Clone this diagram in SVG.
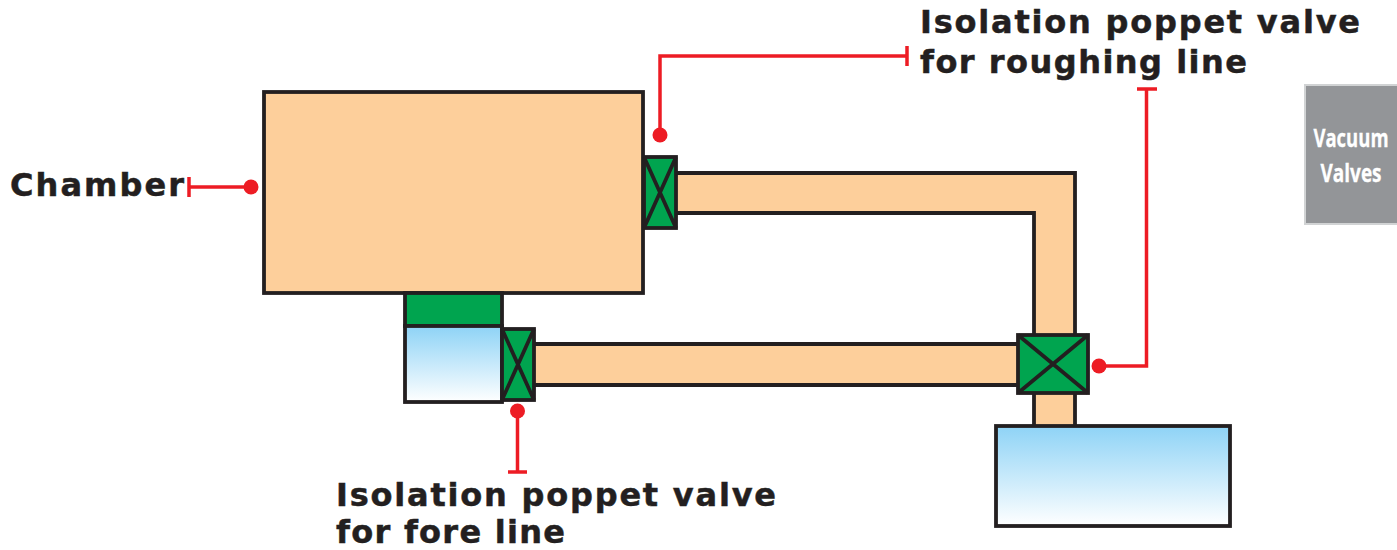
<svg xmlns="http://www.w3.org/2000/svg" width="1397" height="550" viewBox="0 0 1397 550">
<defs>
<linearGradient id="blue" x1="0" y1="0" x2="0" y2="1"><stop offset="0" stop-color="#8ed3f6"/><stop offset="1" stop-color="#ffffff"/></linearGradient>
</defs>
<style>
.o{stroke:#231f20;stroke-width:3.8;stroke-linejoin:miter}
.x{fill:none;stroke:#231f20;stroke-width:3.8}
.p{fill:#fdcf9b}
.g{fill:#00a44f}
.b{fill:url(#blue)}
.r{fill:none;stroke:#ed1c24;stroke-width:3.5}
.d{fill:#ed1c24}
.t{font-family:"DejaVu Sans",Verdana,sans-serif;font-weight:700;font-size:32px;fill:#231f20;stroke:#231f20;stroke-width:.5}
.v{font-family:"Open Sans","Noto Sans",sans-serif;font-weight:700;font-size:25px;fill:#fff;stroke:#fff;stroke-width:.3;text-anchor:middle}
</style>
<g id="pipes">
<path class="p" d="M676 173H1075V336H1034V213H676Z"/>
<path class="x" d="M676 173H1075V336M1034 336V213H676"/>
<rect class="p" x="534" y="345" width="485" height="40"/>
<path class="x" d="M534 344H1019M534 385H1019"/>
<path class="p" d="M1034 392H1075V426H1034Z"/>
<path class="x" d="M1034 392V426M1075 392V426"/>
</g>
<g id="chamber"><rect class="o p" x="264" y="92" width="379" height="201"/></g>
<g id="flange"><rect class="o g" x="405" y="293" width="97" height="33"/></g>
<g id="fore-pump"><rect class="o b" x="405" y="326" width="97" height="76"/></g>
<g id="roughing-pump"><rect class="o b" x="996" y="426" width="234" height="100"/></g>
<g id="valve-roughing">
<rect class="o g" x="644" y="157" width="32" height="71"/>
<path class="x" d="M644 157L676 228M676 157L644 228"/>
</g>
<g id="valve-fore">
<rect class="o g" x="502" y="329" width="32" height="71"/>
<path class="x" d="M502 329L534 400M534 329L502 400"/>
</g>
<g id="valve-main">
<rect class="o g" x="1018" y="335" width="70" height="58"/>
<path class="x" d="M1018 335L1088 393M1088 335L1018 393"/>
</g>
<g id="connectors">
<path class="r" d="M250 187H189M189 177V197"/><circle class="d" cx="251" cy="187" r="7.5"/>
<path class="r" d="M660 135V56H907M907 46V66"/><circle class="d" cx="660" cy="135" r="7.5"/>
<path class="r" d="M1099 366H1146.500V89M1137 89H1157"/><circle class="d" cx="1099" cy="366" r="7.5"/>
<path class="r" d="M517.500 411V472M508 472H527"/><circle class="d" cx="517.500" cy="411" r="7.5"/>
</g>
<g id="label-chamber"><text class="t" x="10" y="196" textLength="174" lengthAdjust="spacing">Chamber</text></g>
<g id="label-roughing"><text class="t" x="920" y="33" textLength="440" lengthAdjust="spacing">Isolation poppet valve</text><text class="t" x="920" y="73" textLength="327" lengthAdjust="spacing">for roughing line</text></g>
<g id="label-fore"><text class="t" x="336" y="506" textLength="440" lengthAdjust="spacing">Isolation poppet valve</text><text class="t" x="336" y="543" textLength="229" lengthAdjust="spacing">for fore line</text></g>
<g id="tab">
<path d="M1397 85H1305V224H1397Z" fill="#939598"/>
<path d="M1397 85H1305V224H1397" fill="none" stroke="#d1d3d4" stroke-width="2"/>
<text class="v" transform="translate(1351 147) scale(.74 1)">Vacuum</text>
<text class="v" transform="translate(1351 182) scale(.76 1)">Valves</text>
</g>
</svg>
